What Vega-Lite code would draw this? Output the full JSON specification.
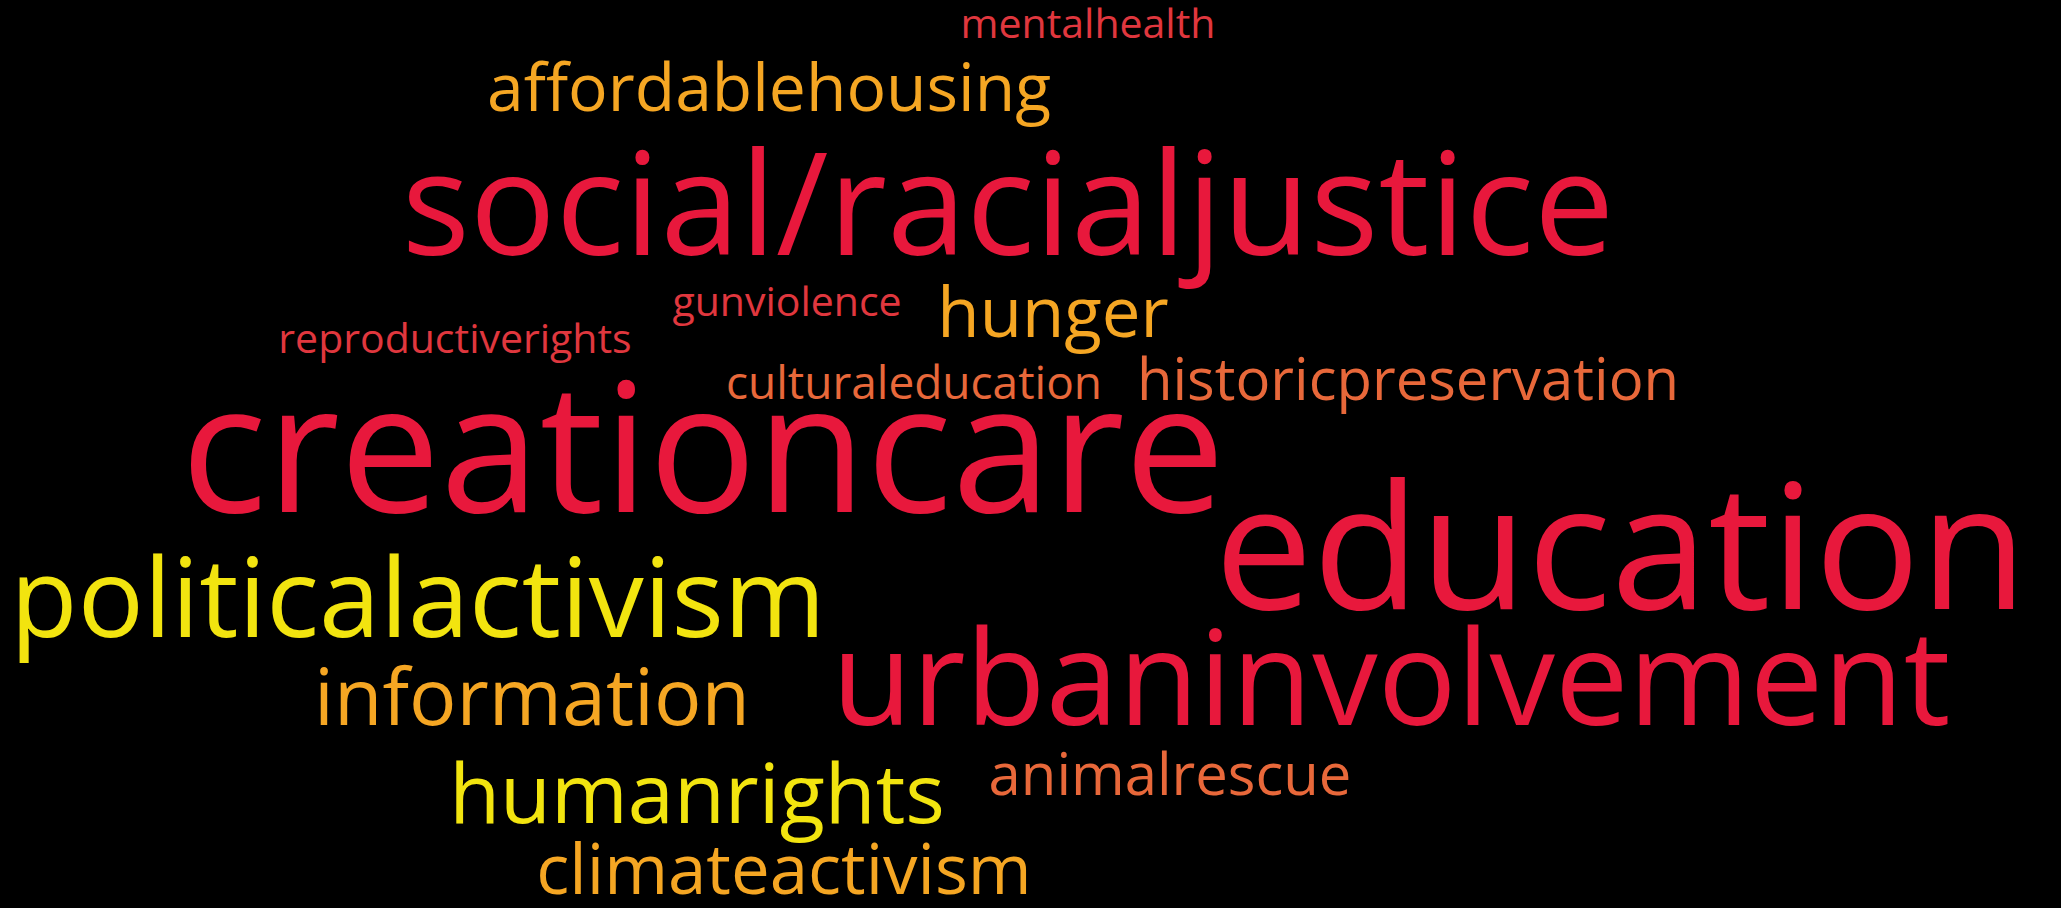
{
  "$schema": "https://vega.github.io/schema/vega-lite/v6.json",
  "width": 2061,
  "height": 908,
  "autosize": {"type": "fit", "contains": "padding"},
  "padding": 0,
  "background": "#000000",
  "config": {"view": {"stroke": null}},
  "data": {
    "values": [
      {"word": "mentalhealth", "x": 1088, "y": 38, "weight": 41, "tier": "t2"},
      {"word": "affordablehousing", "x": 769, "y": 112, "weight": 66, "tier": "t4"},
      {"word": "social/racialjustice", "x": 1008, "y": 256, "weight": 143, "tier": "t1"},
      {"word": "gunviolence", "x": 787, "y": 318, "weight": 41, "tier": "t2"},
      {"word": "hunger", "x": 1053, "y": 339, "weight": 69, "tier": "t4"},
      {"word": "reproductiverights", "x": 455, "y": 355, "weight": 41, "tier": "t2"},
      {"word": "culturaleducation", "x": 914, "y": 401, "weight": 46, "tier": "t3"},
      {"word": "historicpreservation", "x": 1408, "y": 402, "weight": 58, "tier": "t3"},
      {"word": "creationcare", "x": 703, "y": 515, "weight": 179, "tier": "t1"},
      {"word": "education", "x": 1621, "y": 612, "weight": 175, "tier": "t1"},
      {"word": "politicalactivism", "x": 418, "y": 641, "weight": 110, "tier": "t5"},
      {"word": "information", "x": 532, "y": 729, "weight": 79, "tier": "t4"},
      {"word": "urbaninvolvement", "x": 1391, "y": 729, "weight": 131, "tier": "t1"},
      {"word": "animalrescue", "x": 1170, "y": 799, "weight": 58, "tier": "t3"},
      {"word": "humanrights", "x": 697, "y": 828, "weight": 83, "tier": "t5"},
      {"word": "climateactivism", "x": 784, "y": 899, "weight": 69, "tier": "t4"}
    ]
  },
  "mark": {"type": "text", "align": "center", "baseline": "alphabetic", "font": "Open Sans", "fontWeight": 400},
  "encoding": {
    "x": {"field": "x", "type": "quantitative", "scale": {"domain": [0, 2061]}, "axis": null},
    "y": {"field": "y", "type": "quantitative", "scale": {"domain": [0, 908], "reverse": true}, "axis": null},
    "text": {"field": "word"},
    "size": {"field": "weight", "type": "quantitative", "scale": {"type": "linear", "domain": [0, 200], "range": [0, 200]}, "legend": null},
    "color": {"field": "tier", "type": "nominal", "scale": {"domain": ["t1", "t2", "t3", "t4", "t5"], "range": ["#E8183C", "#E0373E", "#E8683A", "#F5A623", "#F2E40F"]}, "legend": null}
  }
}
